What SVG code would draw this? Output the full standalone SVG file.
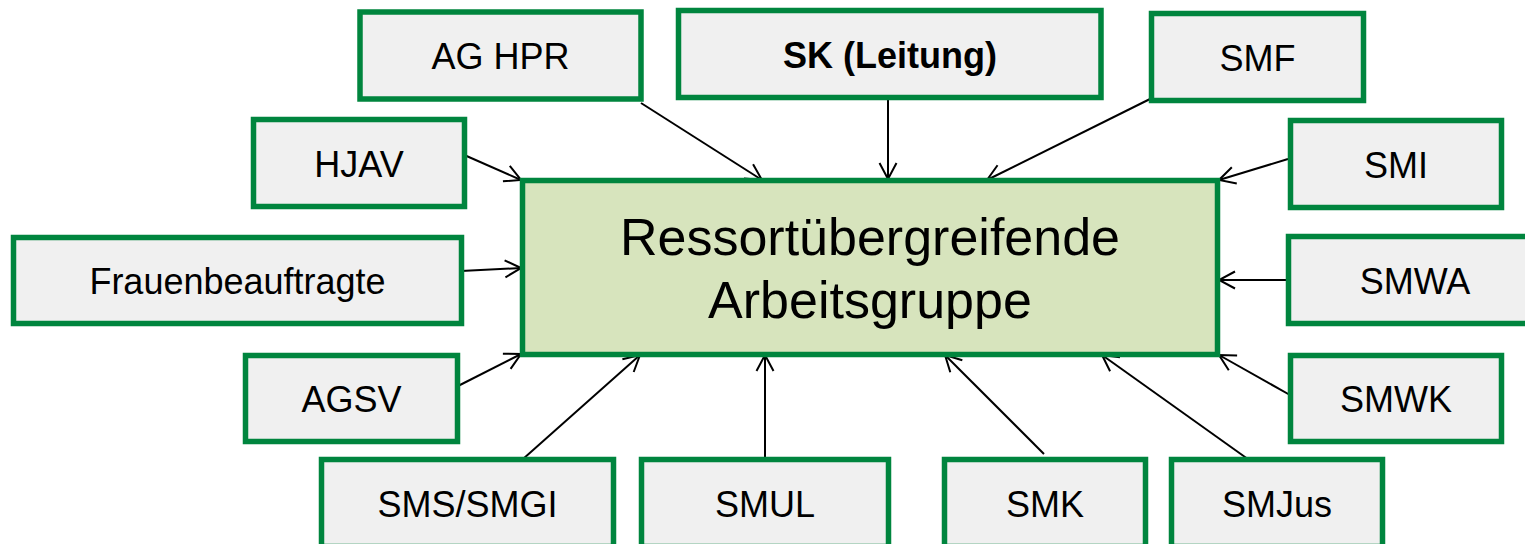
<svg xmlns="http://www.w3.org/2000/svg" width="1525" height="544" viewBox="0 0 1525 544">
<style>
.box{fill:#F0F0F0;stroke:#00853E;stroke-width:5.5}
.main{fill:#D7E4BD;stroke:#00853E;stroke-width:5.5}
.lbl{font-family:"Liberation Sans",Arial,sans-serif;font-size:36px;fill:#000;text-anchor:middle}
.big{font-family:"Liberation Sans",Arial,sans-serif;font-size:52px;fill:#000;text-anchor:middle}
.con line{stroke:#000;stroke-width:2;marker-end:url(#arr)}
</style>
<defs>
<marker id="arr" viewBox="-18 -10 20 20" refX="0" refY="0" markerWidth="20" markerHeight="20" markerUnits="userSpaceOnUse" orient="auto">
<path d="M-16,-8.5 L0,0 L-16,8.5" fill="none" stroke="#000" stroke-width="2"/>
</marker>
</defs>
<rect width="1525" height="544" fill="#fff"/>
<g class="con">
<line x1="641" y1="103" x2="762" y2="180"/>
<line x1="888" y1="98" x2="888" y2="179"/>
<line x1="1150" y1="99" x2="987" y2="180"/>
<line x1="462" y1="154" x2="521" y2="180"/>
<line x1="1288" y1="159" x2="1219" y2="180"/>
<line x1="461" y1="271" x2="521" y2="268"/>
<line x1="1288" y1="280" x2="1219" y2="280"/>
<line x1="458" y1="386" x2="521" y2="354"/>
<line x1="1290" y1="395" x2="1219" y2="355"/>
<line x1="523" y1="459" x2="640" y2="355"/>
<line x1="765" y1="459" x2="765" y2="355"/>
<line x1="1044" y1="454" x2="945" y2="355"/>
<line x1="1252" y1="462" x2="1102" y2="355"/>
</g>
<g id="center"><rect class="main" x="522.5" y="180.5" width="695" height="174"/>
<text class="big" x="870" y="255">Ressortübergreifende</text>
<text class="big" x="870" y="318">Arbeitsgruppe</text></g>
<g id="aghpr"><rect class="box" x="360" y="12" width="281" height="87"/><text class="lbl" x="500.5" y="69">AG HPR</text></g>
<g id="sk"><rect class="box" x="678.5" y="10.5" width="422.5" height="87"/><text class="lbl" x="890" y="67.5" font-weight="bold">SK (Leitung)</text></g>
<g id="smf"><rect class="box" x="1151.5" y="13.5" width="212" height="87"/><text class="lbl" x="1257.5" y="70.5">SMF</text></g>
<g id="hjav"><rect class="box" x="253.5" y="119.5" width="211" height="87"/><text class="lbl" x="359" y="176.5">HJAV</text></g>
<g id="smi"><rect class="box" x="1290.5" y="120.5" width="211" height="87"/><text class="lbl" x="1396" y="177.5">SMI</text></g>
<g id="frauen"><rect class="box" x="13.5" y="237.5" width="448" height="86"/><text class="lbl" x="237.5" y="293.5">Frauenbeauftragte</text></g>
<g id="smwa"><rect class="box" x="1288.5" y="236.5" width="253" height="87"/><text class="lbl" x="1415" y="293.5">SMWA</text></g>
<g id="agsv"><rect class="box" x="245.5" y="355.5" width="212" height="86"/><text class="lbl" x="351.5" y="411.5">AGSV</text></g>
<g id="smwk"><rect class="box" x="1290.5" y="355.5" width="211" height="86"/><text class="lbl" x="1396" y="411.5">SMWK</text></g>
<g id="sms"><rect class="box" x="321.5" y="459.5" width="292" height="87"/><text class="lbl" x="467.5" y="516.5">SMS/SMGI</text></g>
<g id="smul"><rect class="box" x="641.5" y="459.5" width="247" height="87"/><text class="lbl" x="765" y="516.5">SMUL</text></g>
<g id="smk"><rect class="box" x="944.5" y="459.5" width="201" height="87"/><text class="lbl" x="1045" y="516.5">SMK</text></g>
<g id="smjus"><rect class="box" x="1171.5" y="459.5" width="211" height="87"/><text class="lbl" x="1277" y="516.5">SMJus</text></g>
</svg>
